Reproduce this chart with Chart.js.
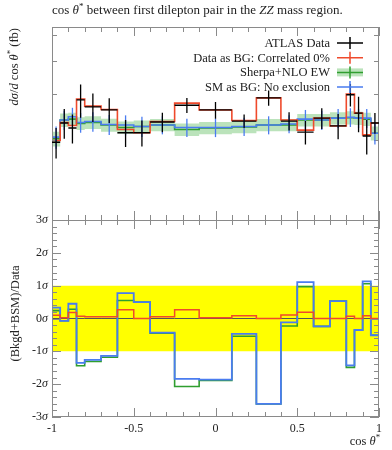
<!DOCTYPE html>
<html>
<head>
<meta charset="utf-8">
<script src="https://cdn.jsdelivr.net/npm/chart.js@4.4.1/dist/chart.umd.min.js"></script>
<style>
  body { margin: 0; background: #fff; }
  #wrap { position: relative; width: 392px; height: 450px; overflow: hidden; }
  canvas { position: absolute; left: 0; }
  #graficoTopo { top: 0; }
  #graficoRazao { top: 200px; }
</style>
</head>
<body>
<div id="wrap">
  <canvas id="graficoTopo" width="392" height="222"></canvas>
  <canvas id="graficoRazao" width="392" height="250"></canvas>
</div>
<script>
// Bordas dos bins em cos(theta*)
const bordas = [-1, -0.95, -0.9, -0.85, -0.8, -0.7, -0.6, -0.5, -0.4, -0.25, -0.1, 0.1, 0.25, 0.4, 0.5, 0.6, 0.7, 0.8, 0.85, 0.9, 0.95, 1];

// Painel de cima: d sigma / d cos theta* (fb)
const dadosAtlas = [1.97, 2.33, 2.23, 2.85, 2.68, 2.61, 2.14, 2.14, 2.35, 2.72, 2.61, 2.37, 2.90, 2.37, 2.15, 2.43, 2.27, 2.98, 2.54, 2.08, 2.33];
const errosAtlas = [0.26, 0.30, 0.28, 0.41, 0.33, 0.28, 0.25, 0.24, 0.20, 0.18, 0.19, 0.14, 0.19, 0.19, 0.22, 0.22, 0.25, 0.29, 0.39, 0.31, 0.21];
const dadosComoBG = [2.00, 2.34, 2.28, 2.87, 2.70, 2.62, 2.20, 2.14, 2.36, 2.77, 2.61, 2.38, 2.90, 2.39, 2.19, 2.43, 2.27, 3.00, 2.54, 2.10, 2.33];
const sherpaNLO = [2.03, 2.39, 2.41, 2.32, 2.34, 2.29, 2.24, 2.26, 2.29, 2.20, 2.23, 2.25, 2.29, 2.29, 2.39, 2.39, 2.43, 2.44, 2.43, 2.41, 2.13];
const errosSherpa = [0.13, 0.14, 0.14, 0.13, 0.13, 0.13, 0.12, 0.12, 0.12, 0.12, 0.12, 0.12, 0.12, 0.12, 0.13, 0.13, 0.13, 0.14, 0.14, 0.14, 0.13];
const smComoBG = [2.06, 2.39, 2.46, 2.34, 2.36, 2.30, 2.29, 2.26, 2.29, 2.24, 2.24, 2.26, 2.29, 2.31, 2.41, 2.39, 2.43, 2.45, 2.43, 2.43, 2.13];
const errosSM = [0.20, 0.20, 0.20, 0.20, 0.20, 0.20, 0.20, 0.20, 0.18, 0.18, 0.18, 0.18, 0.18, 0.18, 0.20, 0.20, 0.20, 0.20, 0.20, 0.20, 0.20];

// Painel de baixo: (Bkgd+BSM)/Data em sigmas
const razaoDadosBG = [0.10, 0.02, 0.18, 0.07, 0.05, 0.05, 0.27, 0.00, 0.05, 0.27, 0.02, 0.08, 0.00, 0.11, 0.19, 0.00, 0.00, 0.07, 0.00, 0.08, 0.00];
const razaoSherpa = [0.24, -0.07, 0.28, -1.44, -1.31, -1.18, 0.55, 0.50, -0.45, -2.07, -1.89, -0.54, -2.60, -0.23, 0.97, -0.24, 0.53, -1.49, -0.35, 1.06, -0.51];
const razaoSM = [0.33, -0.07, 0.45, -1.35, -1.26, -1.14, 0.77, 0.50, -0.43, -1.84, -1.86, -0.47, -2.60, -0.12, 1.11, -0.24, 0.53, -1.43, -0.35, 1.13, -0.51];

// Marcas dos eixos
const ticksX = [-1, -0.5, 0, 0.5, 1];
const ticksLog = [1, 2, 3, 4, 5];
const ticksSigma = [-3, -2, -1, 0, 1, 2, 3];

const cores = {
  dados: '#000000',
  vermelho: '#ef4a2c',
  verde: '#2f9e2f',
  banda: 'rgba(120, 200, 120, 0.5)',
  azul: '#4a7cf0',
  amarelo: '#ffff00',
  eixo: '#8a8a8a',
  texto: '#222222'
};
const fonte = "'Liberation Serif', 'DejaVu Serif', serif";

// Transforma valores por bin em pontos de degrau
function degraus(valores) {
  const pts = valores.map((v, i) => ({ x: bordas[i], y: v }));
  pts.push({ x: bordas[bordas.length - 1], y: valores[valores.length - 1] });
  return pts;
}

function linhaDegrau(valores, cor, largura, ordem) {
  return {
    data: degraus(valores),
    borderColor: cor,
    borderWidth: largura,
    stepped: true,
    pointRadius: 0,
    fill: false,
    order: ordem
  };
}

// Escreve texto com trechos em itálico
function textoMisto(ctx, partes, x, y, tam, alinhar) {
  const larguras = partes.map(p => {
    ctx.font = (p[1] ? 'italic ' : '') + (p[2] ? tam * 0.7 : tam) + 'px ' + fonte;
    return ctx.measureText(p[0]).width;
  });
  const total = larguras.reduce((a, b) => a + b, 0);
  let cx = x;
  if (alinhar === 'right') cx = x - total;
  if (alinhar === 'center') cx = x - total / 2;
  partes.forEach((p, i) => {
    ctx.font = (p[1] ? 'italic ' : '') + (p[2] ? tam * 0.7 : tam) + 'px ' + fonte;
    ctx.fillText(p[0], cx, p[2] ? y - tam * 0.38 : y);
    cx += larguras[i];
  });
}

function marcaX(ctx, escala, area, emCima, emBaixo) {
  for (let k = 0; k <= 20; k++) {
    const v = -1 + k * 0.1;
    const px = Math.round(escala.getPixelForValue(v)) + 0.5;
    const maior = k % 5 === 0 ? 9 : 5;
    ctx.beginPath();
    if (emCima) { ctx.moveTo(px, area.top); ctx.lineTo(px, area.top + maior); }
    if (emBaixo) { ctx.moveTo(px, area.bottom); ctx.lineTo(px, area.bottom - maior); }
    ctx.stroke();
  }
}

// Moldura e marcas do painel de cima
const eixosTopo = {
  id: 'eixosTopo',
  afterDraw(chart) {
    const { ctx, chartArea: a, scales: { x, y } } = chart;
    ctx.save();
    ctx.strokeStyle = cores.eixo;
    ctx.lineWidth = 1;
    ctx.strokeRect(a.left + 0.5, a.top + 0.5, a.width - 1, a.height);
    marcaX(ctx, x, a, true, true);
    ticksLog.forEach(v => {
      const py = Math.round(y.getPixelForValue(v)) + 0.5;
      const t = v === 1 ? 9 : 5;
      ctx.beginPath();
      ctx.moveTo(a.left, py); ctx.lineTo(a.left + t, py);
      ctx.moveTo(a.right, py); ctx.lineTo(a.right - t, py);
      ctx.stroke();
    });
    ctx.restore();

    // Barras de erro: SM e dados
    ctx.save();
    ctx.beginPath();
    ctx.rect(a.left, a.top, a.width, a.height);
    ctx.clip();
    ctx.lineWidth = 1.3;
    ctx.strokeStyle = cores.azul;
    smComoBG.forEach((v, i) => {
      const xc = x.getPixelForValue((bordas[i] + bordas[i + 1]) / 2);
      ctx.beginPath();
      ctx.moveTo(xc, y.getPixelForValue(v - errosSM[i]));
      ctx.lineTo(xc, y.getPixelForValue(v + errosSM[i]));
      ctx.stroke();
    });
    ctx.strokeStyle = cores.dados;
    dadosAtlas.forEach((v, i) => {
      const x0 = x.getPixelForValue(bordas[i]);
      const x1 = x.getPixelForValue(bordas[i + 1]);
      const xc = x.getPixelForValue((bordas[i] + bordas[i + 1]) / 2);
      ctx.beginPath();
      ctx.moveTo(x0, y.getPixelForValue(v));
      ctx.lineTo(x1, y.getPixelForValue(v));
      ctx.moveTo(xc, y.getPixelForValue(v - errosAtlas[i]));
      ctx.lineTo(xc, y.getPixelForValue(v + errosAtlas[i]));
      ctx.stroke();
    });
    ctx.restore();

    // Legenda
    ctx.save();
    ctx.fillStyle = cores.texto;
    ctx.textBaseline = 'alphabetic';
    const itens = [
      ['ATLAS Data', cores.dados, false],
      ['Data as BG: Correlated 0%', cores.vermelho, false],
      ['Sherpa+NLO EW', cores.verde, true],
      ['SM as BG: No exclusion', cores.azul, false]
    ];
    itens.forEach((it, i) => {
      const base = 47 + i * 14.7;
      textoMisto(ctx, [[it[0], false]], 330, base, 12.5, 'right');
      const ym = base - 4;
      if (it[2]) {
        ctx.fillStyle = cores.banda;
        ctx.fillRect(337, ym - 4, 26, 8);
        ctx.fillStyle = cores.texto;
      }
      ctx.strokeStyle = it[1];
      ctx.lineWidth = 1.5;
      ctx.beginPath();
      ctx.moveTo(337, ym); ctx.lineTo(363, ym);
      ctx.moveTo(350, ym - 6); ctx.lineTo(350, ym + 6);
      ctx.stroke();
    });

    // Título e rótulo do eixo y
    textoMisto(ctx, [['cos ', false], ['θ', true], ['*', false, true], [' between first dilepton pair in the ', false], ['ZZ', true], [' mass region.', false]], 52, 14, 13, 'left');
    ctx.translate(18, 28);
    ctx.rotate(-Math.PI / 2);
    textoMisto(ctx, [['dσ', true], ['/', false], ['d', true], [' cos ', false], ['θ', true], ['*', false, true], [' (fb)', false]], 0, 0, 12.5, 'right');
    ctx.restore();
  }
};

// Moldura e marcas do painel de razão
const eixosRazao = {
  id: 'eixosRazao',
  afterDraw(chart) {
    const { ctx, chartArea: a, scales: { x, y } } = chart;
    ctx.save();
    ctx.strokeStyle = cores.eixo;
    ctx.lineWidth = 1;
    ctx.strokeRect(a.left + 0.5, a.top + 0.5, a.width - 1, a.height - 1);
    marcaX(ctx, x, a, true, true);
    for (let k = -15; k <= 15; k++) {
      const v = k * 0.2;
      const py = Math.round(y.getPixelForValue(v)) + 0.5;
      const t = k % 5 === 0 ? 9 : 5;
      ctx.beginPath();
      ctx.moveTo(a.left, py); ctx.lineTo(a.left + t, py);
      ctx.moveTo(a.right, py); ctx.lineTo(a.right - t, py);
      ctx.stroke();
    }
    ctx.fillStyle = cores.texto;
    ctx.textBaseline = 'middle';
    ticksSigma.forEach(v => {
      textoMisto(ctx, [[String(v), false], ['σ', true]], a.left - 4, y.getPixelForValue(v), 12, 'right');
    });
    ctx.textBaseline = 'alphabetic';
    ticksX.forEach(v => {
      textoMisto(ctx, [[String(v), false]], x.getPixelForValue(v), a.bottom + 15, 12, 'center');
    });
    textoMisto(ctx, [['cos ', false], ['θ', true], ['*', false, true]], a.right + 1, a.bottom + 28, 12.5, 'right');
    ctx.translate(19, y.getPixelForValue(0) - 5);
    ctx.rotate(-Math.PI / 2);
    textoMisto(ctx, [['(Bkgd+BSM)/Data', false]], 0, 0, 12.5, 'center');
    ctx.restore();
  }
};

const escalaX = { type: 'linear', min: -1, max: 1, display: false };

// Gráfico de cima
new Chart(document.getElementById('graficoTopo').getContext('2d'), {
  type: 'line',
  data: {
    datasets: [
      linhaDegrau(dadosComoBG, cores.vermelho, 1.6, 1),
      linhaDegrau(smComoBG, cores.azul, 1.6, 2),
      linhaDegrau(sherpaNLO, cores.verde, 1.6, 3),
      linhaDegrau(sherpaNLO.map((v, i) => v - errosSherpa[i]), 'rgba(0,0,0,0)', 0, 5),
      Object.assign(linhaDegrau(sherpaNLO.map((v, i) => v + errosSherpa[i]), 'rgba(0,0,0,0)', 0, 4), { fill: '-1', backgroundColor: cores.banda })
    ]
  },
  options: {
    responsive: false,
    animation: false,
    devicePixelRatio: 1,
    layout: { padding: { left: 52, right: 13, top: 27, bottom: 2 } },
    plugins: { legend: { display: false }, tooltip: { enabled: false } },
    scales: {
      x: escalaX,
      y: { type: 'logarithmic', min: 1, max: 5.38, display: false }
    }
  },
  plugins: [eixosTopo]
});

// Gráfico de razão
new Chart(document.getElementById('graficoRazao').getContext('2d'), {
  type: 'line',
  data: {
    datasets: [
      linhaDegrau(razaoDadosBG, cores.vermelho, 1.5, 1),
      linhaDegrau(razaoSM, cores.azul, 1.8, 2),
      linhaDegrau(razaoSherpa, cores.verde, 1.6, 3),
      linhaDegrau(razaoDadosBG.map(() => 0), '#555555', 1, 4),
      linhaDegrau(razaoDadosBG.map(() => -1), 'rgba(0,0,0,0)', 0, 6),
      Object.assign(linhaDegrau(razaoDadosBG.map(() => 1), 'rgba(0,0,0,0)', 0, 5), { fill: '-1', backgroundColor: cores.amarelo })
    ]
  },
  options: {
    responsive: false,
    animation: false,
    devicePixelRatio: 1,
    layout: { padding: { left: 52, right: 13, top: 20, bottom: 33 } },
    plugins: { legend: { display: false }, tooltip: { enabled: false } },
    scales: {
      x: escalaX,
      y: { type: 'linear', min: -3, max: 3, display: false }
    }
  },
  plugins: [eixosRazao]
});
</script>
</body>
</html>
